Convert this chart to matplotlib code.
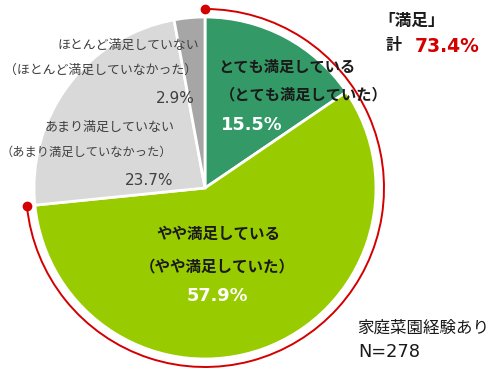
import numpy as np
import matplotlib
matplotlib.use("Agg")
import matplotlib.pyplot as plt
from matplotlib.patches import Arc

plt.rcParams['font.family'] = ['Noto Sans CJK JP', 'DejaVu Sans']

# data
labels = ["とても満足している\n（とても満足していた）",
          "やや満足している\n（やや満足していた）",
          "あまり満足していない\n（あまり満足していなかった）",
          "ほとんど満足していない\n（ほとんど満足していなかった）"]
values = [15.5, 57.9, 23.7, 2.9]
colors = ["#339966", "#99cc00", "#d9d9d9", "#a6a6a6"]
satisfied_total = 73.4
sample_note = "家庭菜園経験あり\nN=278"

W, H = 500, 373
fig = plt.figure(figsize=(W / 100, H / 100), dpi=100)
ax = fig.add_axes([0, 0, 1, 1])

cx, cy, r = 205, 373 - 188, 171
ax.pie(values, startangle=90, counterclock=False, colors=colors,
       center=(cx, cy), radius=r,
       wedgeprops=dict(edgecolor="white", linewidth=2))
ax.set_xlim(0, W)
ax.set_ylim(0, H)
ax.set_aspect("equal")
ax.axis("off")

# red arc around the "satisfied" share
red = "#d40000"
ra = r + 8
end_ang = 90 - (values[0] + values[1]) / 100 * 360
ax.add_patch(Arc((cx, cy), 2 * ra, 2 * ra, theta1=end_ang, theta2=90,
                 color=red, lw=1.4))
for a in (90, end_ang):
    t = np.radians(a)
    ax.plot(cx + ra * np.cos(t), cy + ra * np.sin(t), "o", color=red, ms=6)

def py(y):
    return H - y

dark = "#1a1a1a"
gray = "#404040"
num = "DejaVu Sans"

# top slice
l1, l2 = labels[0].split("\n")
ax.text(287, py(67), l1, ha="center", va="center", fontsize=11, fontweight="bold", color=dark)
ax.text(304, py(94), l2, ha="center", va="center", fontsize=11, fontweight="bold", color=dark)
ax.text(252, py(130), f"{values[0]}%", ha="center", va="baseline", fontsize=12.8,
        fontweight="bold", color="white", family=num)

# big slice
l1, l2 = labels[1].split("\n")
ax.text(218, py(234), l1, ha="center", va="center", fontsize=11.2, fontweight="bold", color=dark)
ax.text(217, py(266), l2, ha="center", va="center", fontsize=11.2, fontweight="bold", color=dark)
ax.text(217, py(301), f"{values[1]}%", ha="center", va="baseline", fontsize=12.8,
        fontweight="bold", color="white", family=num)

# small gray slices
l1, l2 = labels[3].split("\n")
ax.text(199, py(45), l1, ha="right", va="center", fontsize=9.3, color=gray)
ax.text(197, py(70), l2, ha="right", va="center", fontsize=9.3, color=gray)
ax.text(195, py(103), f"{values[3]}%", ha="right", va="baseline", fontsize=11,
        color=gray, family=num)

l1, l2 = labels[2].split("\n")
ax.text(175, py(127), l1, ha="right", va="center", fontsize=9.4, color=gray)
ax.text(172, py(152), l2, ha="right", va="center", fontsize=8.8, color=gray)
ax.text(173, py(185), f"{values[2]}%", ha="right", va="baseline", fontsize=11,
        color=gray, family=num)

# total
ax.text(378, py(21), "「満足」", ha="left", va="center", fontsize=12, fontweight="bold", color=dark)
ax.text(386, py(45), "計", ha="left", va="center", fontsize=11.5, fontweight="bold", color=dark)
ax.text(415, py(52), f"{satisfied_total}%", ha="left", va="baseline", fontsize=13.5,
        fontweight="bold", color=red, family=num)

# note
n1, n2 = sample_note.split("\n")
ax.text(357, py(328), n1, ha="left", va="center", fontsize=11.9, color=dark)
ax.text(358, py(357), n2, ha="left", va="baseline", fontsize=12.8, color=dark, family=num)

fig.savefig("out.png", dpi=100)
